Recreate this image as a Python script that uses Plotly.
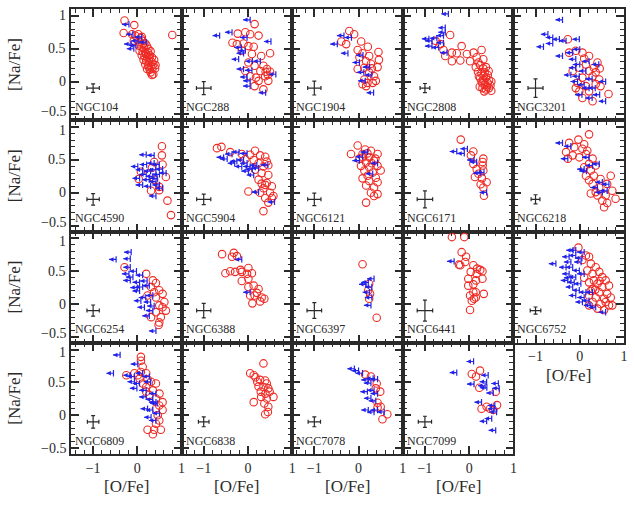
import plotly.graph_objects as go
from plotly.subplots import make_subplots

# ---------------- data: ([O/Fe], [Na/Fe]) detections and O upper limits ----------------
det_104 = [(-0.29,0.93),(-0.07,0.86),(0.79,0.71),(-0.31,0.74),(-0.12,0.72),(-0.05,0.70),(0.02,0.72),(0.10,0.68),
           (-0.08,0.62),(0.0,0.63),(0.06,0.60),(0.12,0.62),(0.18,0.58),(0.03,0.55),(0.09,0.53),(0.15,0.52),(0.21,0.55),
           (0.25,0.50),(0.05,0.47),(0.12,0.46),(0.18,0.45),(0.24,0.44),(0.30,0.46),(0.10,0.40),(0.16,0.39),(0.22,0.38),
           (0.28,0.40),(0.33,0.37),(0.14,0.33),(0.20,0.32),(0.26,0.31),(0.32,0.30),(0.38,0.33),(0.18,0.26),(0.24,0.25),
           (0.30,0.24),(0.36,0.26),(0.41,0.25),(0.22,0.19),(0.28,0.18),(0.34,0.19),(0.40,0.20),(0.30,0.14),(0.36,0.11),
           (0.33,0.10),(0.26,0.22),(0.20,0.42),(0.14,0.58),(0.08,0.66),(0.27,0.36)]
lim_104 = [(-0.19,0.87),(-0.10,0.72),(-0.14,0.57),(-0.08,0.50),(0.02,0.62),(0.10,0.68),(-0.03,0.55),(0.20,0.60)]

det_288 = [(0.15,0.875),(-0.23,0.73),(-0.06,0.75),(0.05,0.72),(0.24,0.70),(-0.35,0.59),(-0.25,0.57),(-0.10,0.58),
           (0.01,0.54),(0.13,0.53),(-0.14,0.47),(0.09,0.42),(0.30,0.39),(0.50,0.43),(0.01,0.29),(0.15,0.24),(0.35,0.24),
           (0.43,0.19),(0.50,0.15),(0.28,0.16),(0.18,0.06),(0.39,0.08),(0.46,0.01),(0.15,-0.07),(0.35,-0.12),(-0.06,0.16),
           (0.05,0.08),(0.24,0.01),(0.40,0.15),(0.45,0.10)]
lim_288 = [(0.05,0.94),(-0.64,0.70),(-0.36,0.75),(-0.02,0.67),(0.52,0.61),(-0.15,0.52),(-0.06,0.47),(-0.10,0.43),
           (-0.21,0.34),(0.28,0.31),(-0.10,0.19),(0.09,0.17),(0.63,0.11),(0.05,0.01),(0.05,-0.07),(0.40,-0.17),
           (-0.02,0.07),(0.10,0.31)]

det_1904 = [(-0.21,0.77),(-0.10,0.72),(-0.39,0.61),(-0.28,0.57),(0.06,0.61),(0.21,0.53),(-0.02,0.48),(0.09,0.43),
            (0.24,0.39),(0.02,0.37),(0.17,0.31),(0.28,0.27),(0.13,0.21),(-0.02,0.19),(0.24,0.14),(0.35,0.08),(0.13,0.03),
            (0.32,-0.02),(0.09,-0.04),(0.17,-0.07),(0.39,0.01),(0.45,0.45),(0.46,0.33),(0.43,0.22),(0.30,0.20),(0.20,-0.02)]
lim_1904 = [(-0.33,0.70),(-0.16,0.67),(-0.48,0.57),(-0.24,0.43),(0.02,0.29),(0.12,0.14),(0.15,0.01),(0.34,-0.17),
            (0.10,0.40),(0.25,0.22),(0.30,0.10)]

det_2808 = [(-0.43,0.71),(-0.76,0.62),(-0.65,0.57),(-0.58,0.48),(-0.39,0.44),(-0.28,0.43),(-0.17,0.54),(-0.05,0.42),
            (0.10,0.44),(0.28,0.48),(-0.54,0.39),(-0.39,0.31),(-0.20,0.32),(0.02,0.31),(0.17,0.37),(0.21,0.29),(0.32,0.34),
            (0.15,0.22),(0.25,0.25),(0.32,0.20),(0.38,0.22),(0.20,0.15),(0.28,0.12),(0.35,0.14),(0.42,0.10),(0.25,0.05),
            (0.32,0.03),(0.38,0.06),(0.45,0.02),(0.50,0.0),(0.30,-0.03),(0.36,-0.05),(0.42,-0.02),(0.48,-0.06),(0.30,-0.10),
            (0.38,-0.12),(0.45,-0.10),(0.50,-0.14),(0.24,-0.08),(0.34,-0.15),(0.28,0.0),(0.22,0.08),(0.44,0.16),(0.40,-0.08),
            (0.33,0.09)]
lim_2808 = [(-0.47,1.03),(-0.54,0.82),(-0.54,0.75),(-0.58,0.70),(-0.91,0.65),(-0.73,0.66),(-0.58,0.59),(-0.84,0.54),
            (-0.69,0.52),(-0.50,0.44),(-0.84,0.62)]

det_3201 = [(-0.27,0.645),(-0.24,0.44),(-0.09,0.47),(0.06,0.44),(0.21,0.39),(0.40,0.29),(0.32,0.21),(0.14,0.26),
            (-0.01,0.21),(0.21,0.16),(0.06,0.06),(0.29,0.08),(0.44,0.03),(-0.05,-0.02),(0.14,-0.07),(0.36,-0.04),
            (-0.01,-0.15),(0.21,-0.15),(0.06,-0.25),(0.29,-0.30),(0.65,-0.19),(0.47,-0.07),(-0.16,0.16),(-0.09,-0.10),
            (0.36,0.14),(0.10,0.35),(0.45,0.20)]
lim_3201 = [(-0.39,0.94),(-0.72,0.72),(-0.61,0.67),(-0.82,0.53),(-0.61,0.58),(-0.46,0.645),(-0.31,0.62),(-0.01,0.645),
            (-0.39,0.39),(-0.16,0.44),(0.0,0.49),(-0.09,0.34),(0.0,0.26),(-0.09,0.21),(0.21,0.31),(0.14,0.16),(-0.01,0.08),
            (-0.05,0.0),(0.28,0.04),(0.43,0.26),(0.585,0.0),(0.21,-0.10),(0.45,-0.20),(0.585,-0.30),(0.28,-0.25),
            (0.10,-0.05),(-0.20,0.10),(0.05,-0.20),(0.35,-0.10)]

det_4590 = [(0.555,0.71),(0.555,0.57),(0.57,0.43),(0.38,0.47),(0.33,0.38),(0.08,0.32),(0.03,0.21),(0.38,0.20),
            (0.645,0.24),(0.31,0.03),(0.495,0.04),(0.68,-0.12),(0.76,-0.34),(0.495,0.09)]
lim_4590 = [(0.20,0.58),(0.38,0.57),(0.01,0.40),(0.21,0.43),(0.38,0.45),(0.495,0.43),(0.12,0.35),(0.30,0.33),
            (0.42,0.35),(0.57,0.36),(0.20,0.28),(0.35,0.25),(0.50,0.28),(0.65,0.30),(0.27,0.20),(0.42,0.17),(0.12,0.12),
            (0.50,0.12),(0.42,-0.05),(0.57,0.07),(0.05,0.22),(0.30,0.10),(0.45,0.22)]

det_5904 = [(-0.70,0.68),(-0.60,0.70),(-0.40,0.62),(-0.14,0.59),(0.16,0.64),(0.275,0.57),(0.39,0.55),(-0.06,0.51),
            (0.13,0.50),(0.24,0.45),(0.35,0.40),(0.425,0.475),(0.16,0.35),(0.31,0.30),(0.46,0.27),(0.24,0.20),(0.425,0.15),
            (0.54,0.10),(0.35,0.07),(0.50,0.0),(0.575,-0.05),(0.39,-0.08),(0.46,-0.15),(0.35,-0.28),(0.01,0.02),(0.275,0.0),
            (0.46,0.42),(0.05,0.58),(0.39,0.12),(0.54,-0.08),(0.31,0.14)]
lim_5904 = [(-0.55,0.54),(-0.47,0.515),(-0.36,0.59),(-0.25,0.48),(-0.02,0.45),(-0.14,0.40),(0.05,0.40),(0.24,0.375),
            (0.01,0.33),(0.13,0.27),(0.45,0.425),(0.24,0.01),(0.60,-0.14),(-0.02,0.60),(-0.20,0.62),(0.10,0.36),
            (-0.30,0.45),(-0.10,0.50),(0.20,0.42)]

det_6121 = [(-0.02,0.72),(-0.17,0.59),(0.09,0.59),(0.24,0.54),(0.02,0.52),(0.17,0.46),(0.35,0.49),(0.055,0.41),
            (0.24,0.39),(0.43,0.41),(0.13,0.34),(0.32,0.31),(0.205,0.26),(0.39,0.23),(0.24,0.18),(0.43,0.16),(0.17,0.11),
            (0.35,0.08),(0.28,0.0),(0.43,-0.02),(0.17,-0.15),(0.10,0.54),(0.28,0.64),(0.43,0.59),(0.50,0.34),(0.09,0.22),
            (0.35,-0.05),(0.20,0.60),(0.30,0.45),(0.15,0.66),(0.38,0.52)]
lim_6121 = [(0.02,0.49),(0.09,0.55),(0.205,0.62),(0.32,0.29),(0.43,0.45)]

det_6171 = [(-0.19,0.81),(0.095,0.63),(0.04,0.57),(0.32,0.52),(0.305,0.47),(0.305,0.415),(0.095,0.44),(0.17,0.36),
            (0.32,0.34),(0.21,0.29),(0.395,0.16),(0.26,0.13),(0.32,0.08),(0.335,-0.045),(0.13,0.24),(0.29,0.22)]
lim_6171 = [(-0.28,0.63),(-0.04,0.67),(-0.11,0.60),(0.11,0.50),(0.17,0.47),(0.335,0.31),(0.395,0.006),(0.25,0.30)]

det_6218 = [(0.21,0.89),(-0.03,0.81),(0.10,0.74),(-0.24,0.76),(-0.125,0.695),(0.06,0.67),(0.17,0.64),(-0.31,0.62),
            (-0.16,0.57),(-0.01,0.54),(0.14,0.59),(-0.27,0.52),(0.29,0.52),(0.21,0.44),(0.36,0.415),(0.10,0.39),
            (0.25,0.34),(0.14,0.26),(0.32,0.26),(0.70,0.26),(0.21,0.19),(0.47,0.21),(0.29,0.135),(0.44,0.08),(0.62,0.135),
            (0.735,0.03),(0.25,-0.01),(0.40,-0.04),(0.585,-0.04),(0.81,-0.09),(0.51,-0.12),(0.62,-0.155),(0.55,-0.22),
            (0.36,0.01)]
lim_6218 = [(-0.39,0.76),(-0.20,0.71),(-0.27,0.52),(0.21,0.54),(0.10,0.36),(0.29,0.415),(0.44,0.44),(0.51,0.16),
            (0.66,0.13),(0.51,0.006),(0.62,0.03),(0.40,0.08),(0.15,0.33)]

det_6254 = [(-0.29,0.56),(0.20,0.46),(0.35,0.36),(0.42,0.32),(0.31,0.26),(0.495,0.21),(0.57,0.155),(0.42,0.10),
            (0.61,0.03),(0.495,-0.02),(0.645,-0.10),(0.42,-0.125),(0.53,-0.20),(0.495,-0.28),(0.48,-0.32),(0.31,-0.20),
            (0.57,-0.05),(0.23,0.13),(0.38,0.18)]
lim_6254 = [(-0.48,0.68),(-0.14,0.79),(-0.16,0.69),(-0.16,0.56),(-0.19,0.46),(-0.10,0.41),(-0.16,0.36),(0.12,0.44),
            (0.05,0.33),(0.12,0.26),(0.27,0.28),(0.05,0.20),(0.19,0.10),(0.08,0.05),(0.30,0.03),(0.16,-0.05),(0.35,-0.10),
            (0.27,-0.18),(0.42,-0.41),(0.35,0.13),(-0.02,0.50),(0.38,-0.03),(0.0,0.25),(0.22,0.35)]

det_6388 = [(-0.585,0.76),(-0.32,0.78),(-0.36,0.72),(-0.25,0.73),(-0.51,0.47),(-0.40,0.50),(-0.29,0.49),(-0.17,0.52),
            (-0.14,0.49),(-0.02,0.46),(0.01,0.55),(0.09,0.47),(-0.14,0.35),(0.01,0.385),(0.13,0.28),(0.01,0.26),
            (0.24,0.23),(0.20,0.17),(0.05,0.13),(0.31,0.10),(0.37,0.08),(0.275,0.04),(0.10,0.01),(0.15,0.13)]
lim_6388 = [(-0.14,0.68),(0.05,0.18)]

det_6397 = [(0.09,0.605),(0.24,0.31),(0.22,0.21),(0.26,0.155),(0.24,0.08),(0.41,-0.21)]
lim_6397 = [(0.17,0.30),(0.35,0.385),(0.30,0.26),(0.25,0.18),(0.30,0.10),(0.28,-0.02),(0.22,0.33)]

det_6441 = [(-0.39,1.02),(-0.11,1.02),(-0.17,0.79),(-0.07,0.72),(-0.20,0.59),(-0.09,0.64),(-0.23,0.60),(0.095,0.59),
            (0.18,0.54),(0.30,0.50),(0.035,0.49),(0.17,0.46),(-0.02,0.385),(0.155,0.36),(0.30,0.385),(-0.02,0.28),
            (0.095,0.30),(0.095,0.18),(0.15,0.18),(0.33,0.155),(0.02,0.13),(0.11,0.08),(0.15,0.10),(0.02,-0.09),
            (0.06,0.05),(0.25,0.52)]
lim_6441 = [(-0.34,0.65)]

det_6752 = [(-0.03,0.86),(0.14,0.74),(0.21,0.72),(0.06,0.67),(0.25,0.615),(0.36,0.56),(0.17,0.51),(0.29,0.46),
            (0.44,0.49),(0.51,0.41),(0.32,0.36),(0.585,0.36),(0.21,0.33),(0.40,0.31),(0.66,0.28),(0.51,0.26),(0.29,0.23),
            (0.44,0.18),(0.62,0.155),(0.21,0.13),(0.36,0.10),(0.55,0.08),(0.70,0.10),(0.29,0.03),(0.47,0.0),(0.66,-0.02),
            (0.21,-0.02),(0.40,-0.07),(0.55,-0.09),(0.735,-0.02),(0.585,0.03),(0.10,0.40),(0.25,0.20),(0.45,0.35),
            (0.35,0.22)]
lim_6752 = [(-0.54,0.615),(-0.15,0.82),(-0.09,0.82),(0.10,0.79),(-0.24,0.72),(-0.09,0.74),(-0.20,0.64),(0.03,0.64),
            (-0.31,0.56),(-0.16,0.56),(-0.01,0.51),(-0.24,0.46),(-0.09,0.41),(0.10,0.46),(-0.27,0.36),(-0.125,0.33),
            (0.025,0.31),(-0.16,0.26),(-0.01,0.21),(0.14,0.18),(-0.09,0.13),(0.10,0.10),(0.21,0.05),(0.06,0.03),
            (0.25,-0.02),(0.585,-0.125),(0.29,0.18),(0.36,-0.05),(-0.20,0.40),(0.05,0.70)]

det_6809 = [(0.08,0.89),(0.08,0.83),(0.12,0.74),(-0.065,0.64),(-0.25,0.61),(0.01,0.61),(0.20,0.64),(0.05,0.56),
            (0.23,0.55),(0.12,0.485),(0.31,0.51),(0.42,0.485),(0.20,0.43),(0.35,0.38),(0.50,0.33),(0.27,0.31),(0.42,0.255),
            (0.57,0.20),(0.495,0.15),(0.42,0.10),(0.57,0.08),(0.46,0.0),(0.495,-0.08),(0.23,-0.22),(0.38,-0.22),
            (0.53,-0.22),(0.35,-0.29),(0.42,-0.13),(0.20,0.36),(0.08,0.66)]
lim_6809 = [(-0.39,0.92),(-0.54,0.64),(0.01,0.78),(-0.16,0.61),(-0.065,0.59),(0.12,0.64),(0.27,0.59),(-0.065,0.51),
            (0.05,0.485),(0.30,0.51),(-0.01,0.41),(0.20,0.38),(0.42,0.33),(0.20,0.28),(0.35,0.24),(0.42,0.20),(0.23,0.10),
            (0.35,0.08),(0.31,-0.03),(0.42,-0.08),(0.45,0.18),(0.50,0.03)]

det_6838 = [(0.35,0.79),(0.05,0.64),(0.13,0.61),(0.17,0.58),(0.275,0.54),(0.39,0.53),(0.425,0.485),(0.24,0.44),
            (0.35,0.43),(0.46,0.41),(0.29,0.36),(0.395,0.33),(0.49,0.36),(0.30,0.28),(0.425,0.255),(0.575,0.28),
            (0.13,0.20),(0.37,0.18),(0.46,0.13),(0.45,0.05),(0.39,0.015),(0.21,0.51)]
lim_6838 = []

det_7078 = [(0.28,0.59),(0.41,0.485),(0.39,0.41),(0.43,0.19),(0.43,0.12),(0.49,0.36),(0.50,0.13),(0.65,0.015),
            (0.54,-0.06),(0.15,0.62)]
lim_7078 = [(-0.095,0.71),(0.09,0.64),(0.22,0.54),(0.33,0.56),(0.43,0.55),(0.28,0.49),(0.20,0.36),(0.35,0.38),
            (0.43,0.33),(0.28,0.26),(0.22,0.08),(0.35,0.05),(0.43,0.08),(0.39,0.22),(0.58,0.05),(0.0,0.68)]

det_7099 = [(0.245,0.68),(0.06,0.63),(0.155,0.59),(0.23,0.42),(0.60,0.36),(0.28,0.10),(0.395,0.13),(0.63,0.155),
            (0.545,0.08),(0.47,0.10)]
lim_7099 = [(0.10,0.82),(-0.28,0.65),(0.43,0.61),(0.11,0.475),(0.395,0.51),(0.36,0.45),(0.66,0.485),(0.68,0.41),
            (0.545,0.34),(0.28,0.20),(0.58,0.15),(0.58,0.10),(0.62,0.05),(0.51,-0.05),(0.395,-0.09),(0.60,-0.23),
            (0.40,0.42)]

clusters = ["NGC104", "NGC288", "NGC1904", "NGC2808", "NGC3201",
            "NGC4590", "NGC5904", "NGC6121", "NGC6171", "NGC6218",
            "NGC6254", "NGC6388", "NGC6397", "NGC6441", "NGC6752",
            "NGC6809", "NGC6838", "NGC7078", "NGC7099"]
detections = [det_104, det_288, det_1904, det_2808, det_3201, det_4590, det_5904, det_6121, det_6171, det_6218,
              det_6254, det_6388, det_6397, det_6441, det_6752, det_6809, det_6838, det_7078, det_7099]
limits = [lim_104, lim_288, lim_1904, lim_2808, lim_3201, lim_4590, lim_5904, lim_6121, lim_6171, lim_6218,
          lim_6254, lim_6388, lim_6397, lim_6441, lim_6752, lim_6809, lim_6838, lim_7078, lim_7099]
# typical error bars per cluster
err_o = [0.14, 0.165, 0.15, 0.11, 0.17, 0.14, 0.16, 0.15, 0.175, 0.10,
         0.14, 0.16, 0.165, 0.175, 0.12, 0.13, 0.12, 0.14, 0.15]
err_na = [0.065, 0.10, 0.105, 0.07, 0.14, 0.087, 0.08, 0.095, 0.13, 0.07,
          0.085, 0.11, 0.12, 0.16, 0.055, 0.095, 0.075, 0.075, 0.085]
err_pos = (-1.0, -0.1)

x_ticks = [-1, 0, 1]
x_ticktext = ["\u22121", "0", "1"]
y_ticks = [-0.5, 0, 0.5, 1]
y_ticktext = ["\u22120.5", "0", "0.5", "1"]
x_range = [-1.5, 1.0]
y_range = [-0.59, 1.105]
ARROW_LEN = 0.16   # length of the upper-limit arrow, in [O/Fe] units

# ---------------- figure ----------------
W, H = 635, 508
ML, MR, MT, MB = 71, 7, 8, 54
fig = make_subplots(rows=4, cols=5, horizontal_spacing=0, vertical_spacing=0)

RED = "#ee2a24"
BLUE = "#2222ea"
INK = "#2a2a2a"
SERIF = "Liberation Serif"

for i, name in enumerate(clusters):
    r, c = i // 5 + 1, i % 5 + 1
    fig.add_trace(go.Scatter(
        x=[err_pos[0]], y=[err_pos[1]], mode="markers",
        marker=dict(size=1, color="rgba(0,0,0,0)"),
        error_x=dict(type="constant", value=err_o[i], color=INK, thickness=1.2, width=2),
        error_y=dict(type="constant", value=err_na[i], color=INK, thickness=1.2, width=2),
        hoverinfo="skip", showlegend=False), row=r, col=c)
    d = detections[i]
    fig.add_trace(go.Scatter(
        x=[p[0] for p in d], y=[p[1] for p in d], mode="markers",
        marker=dict(symbol="circle-open", size=7.5, color=RED, line=dict(width=1.1, color=RED)),
        showlegend=False), row=r, col=c)
    lm = limits[i]
    if lm:
        ox = [p[0] for p in lm]
        ny = [p[1] for p in lm]
        # bar at the measured limit, shaft pointing to lower [O/Fe]
        fig.add_trace(go.Scatter(
            x=ox, y=ny, mode="markers",
            marker=dict(symbol="line-ns", size=4.5, line=dict(width=1.2, color=BLUE), color=BLUE),
            error_x=dict(type="data", symmetric=False, array=[0] * len(lm),
                         arrayminus=[ARROW_LEN] * len(lm), width=0, thickness=1.1, color=BLUE),
            showlegend=False), row=r, col=c)
        # arrow head
        fig.add_trace(go.Scatter(
            x=[o - ARROW_LEN for o in ox], y=ny, mode="markers",
            marker=dict(symbol="arrow-left", size=4.5, color=BLUE, line=dict(width=0)),
            showlegend=False), row=r, col=c)

axis_common = dict(ticks="inside", ticklen=8, tickwidth=1.5, tickcolor=INK, mirror="allticks",
                   showline=True, linecolor=INK, linewidth=1.5, showgrid=False, zeroline=False,
                   showticklabels=False)
fig.update_xaxes(range=x_range, tickmode="array", tickvals=x_ticks, ticktext=x_ticktext,
                 tickfont=dict(family=SERIF, size=14, color=INK),
                 minor=dict(tickmode="linear", dtick=0.2, tick0=0, ticklen=4.5, ticks="inside",
                            tickwidth=1.2, tickcolor=INK, showgrid=False), **axis_common)
fig.update_yaxes(range=y_range, tickmode="array", tickvals=y_ticks, ticktext=y_ticktext,
                 tickfont=dict(family=SERIF, size=14, color=INK),
                 minor=dict(tickmode="linear", dtick=0.1, tick0=0, ticklen=4.5, ticks="inside",
                            tickwidth=1.2, tickcolor=INK, showgrid=False), **axis_common)
for c in range(1, 5):
    fig.update_xaxes(showticklabels=True, row=4, col=c)
fig.update_xaxes(showticklabels=True, row=3, col=5)
fig.update_xaxes(visible=False, row=4, col=5)
fig.update_yaxes(visible=False, row=4, col=5)

annotations = []
# y tick labels of the left column (placed at their tick values; the ones that meet
# a neighbouring row's label are nudged apart by a couple of pixels)
for r in range(4):
    n = r * 5 + 1
    suf = "" if n == 1 else str(n)
    for v, t in zip(y_ticks, y_ticktext):
        shift = 0
        if v == y_ticks[0] and r < 3:
            shift = 3
        if v == y_ticks[-1] and r > 0:
            shift = -3
        annotations.append(dict(text=t, xref="paper", yref="y" + suf, x=0, y=v, xanchor="right",
                                yanchor="middle", xshift=-3, yshift=shift, showarrow=False,
                                font=dict(family=SERIF, size=14, color=INK)))

for i, name in enumerate(clusters):
    n = i + 1
    suf = "" if n == 1 else str(n)
    annotations.append(dict(text=name, xref="x" + suf, yref="y" + suf, x=x_range[0], y=-0.385,
                            xanchor="left", yanchor="middle", xshift=2, showarrow=False,
                            font=dict(family=SERIF, size=12, color=INK)))

pw, ph = W - ML - MR, H - MT - MB
col_w, row_h = pw / 5, ph / 4
for r in range(4):
    cy = MT + row_h * (r + 0.5)
    annotations.append(dict(text="[Na/Fe]", xref="paper", yref="paper", x=(14 - ML) / pw,
                            y=(H - MB - cy) / ph, textangle=-90, showarrow=False,
                            xanchor="center", yanchor="middle",
                            font=dict(family=SERIF, size=17, color=INK)))
for c in range(4):
    cx = ML + col_w * (c + 0.5)
    annotations.append(dict(text="[O/Fe]", xref="paper", yref="paper", x=(cx - ML) / pw,
                            y=(H - MB - 487) / ph, showarrow=False, xanchor="center", yanchor="middle",
                            font=dict(family=SERIF, size=17, color=INK)))
cx = ML + col_w * 4.5
annotations.append(dict(text="[O/Fe]", xref="paper", yref="paper", x=(cx - ML) / pw,
                        y=(H - MB - 375) / ph, showarrow=False, xanchor="center", yanchor="middle",
                        font=dict(family=SERIF, size=17, color=INK)))

fig.update_layout(width=W, height=H, margin=dict(l=ML, r=MR, t=MT, b=MB),
                  paper_bgcolor="white", plot_bgcolor="white", showlegend=False,
                  annotations=annotations)

fig.write_html("out.html")
